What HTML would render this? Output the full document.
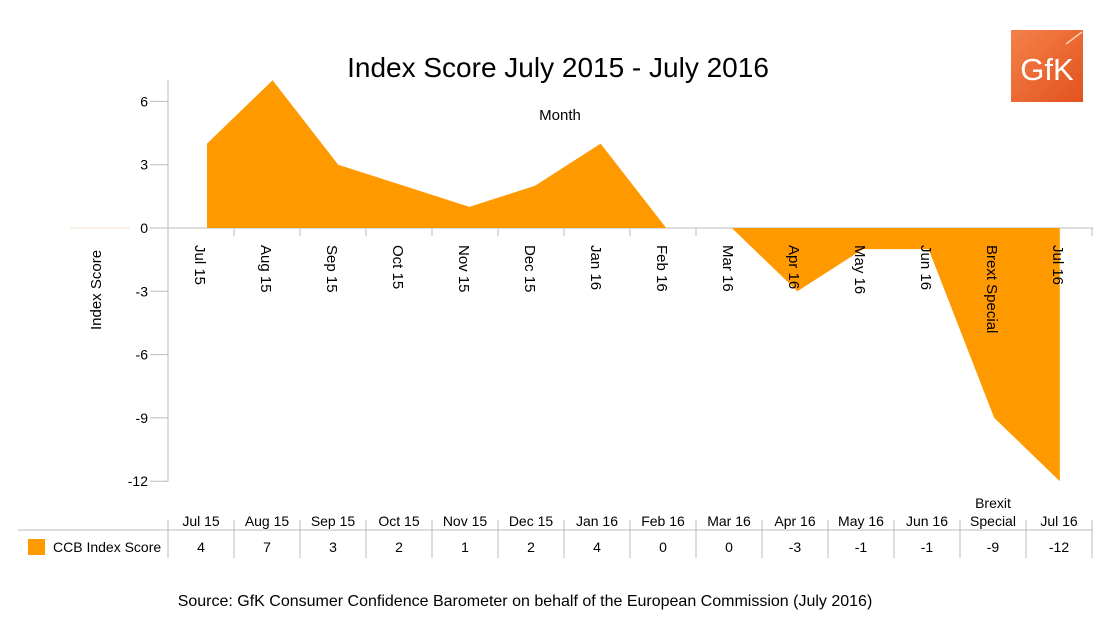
<!DOCTYPE html>
<html><head><meta charset="utf-8"><style>
body{margin:0;background:#fff;}
svg{display:block;font-family:"Liberation Sans",Arial,sans-serif;}
</style></head><body>
<svg id="c" width="1120" height="630" viewBox="0 0 1120 630">
<text x="558" y="77" font-size="28" text-anchor="middle">Index Score July 2015 - July 2016</text>
<text x="560" y="120" font-size="15" text-anchor="middle">Month</text>
<text transform="translate(101,290) rotate(-90)" font-size="15" text-anchor="middle">Index Score</text>
<line x1="70" y1="228" x2="130" y2="228" stroke="#f6ede2" stroke-width="1.5"/>
<g>
<defs><linearGradient id="lg" x1="0" y1="0" x2="1" y2="1"><stop offset="0" stop-color="#f4814a"/><stop offset="1" stop-color="#e2521e"/></linearGradient></defs>
<rect x="1011" y="30" width="72" height="72" fill="url(#lg)"/>
<line x1="1066" y1="44" x2="1082" y2="32" stroke="#fbd2b8" stroke-width="1.5"/>
<text x="1047" y="80" font-size="31" fill="#fff" text-anchor="middle">GfK</text>
</g>
<g id="axes"></g>
<g id="marks"></g>
<g id="table"></g>
<text x="525" y="606" font-size="16" text-anchor="middle">Source: GfK Consumer Confidence Barometer on behalf of the European Commission (July 2016)</text>
</svg>
<script>
const categories=["Jul 15","Aug 15","Sep 15","Oct 15","Nov 15","Dec 15","Jan 16","Feb 16","Mar 16","Apr 16","May 16","Jun 16","Brext Special","Jul 16"];
const tableLabels=["Jul 15","Aug 15","Sep 15","Oct 15","Nov 15","Dec 15","Jan 16","Feb 16","Mar 16","Apr 16","May 16","Jun 16","Brexit\nSpecial","Jul 16"];
const values=[4,7,3,2,1,2,4,0,0,-3,-1,-1,-9,-12];
const yTicks=[6,3,0,-3,-6,-9,-12];
const NS="http://www.w3.org/2000/svg";
const x0=168,colW=66,y0=228,unit=21.1;
const yS=v=>y0-v*unit;
const colL=i=>x0+i*colW;
const ptX=i=>207+i*65.6;
function mk(tag,attrs,parent,txt){const e=document.createElementNS(NS,tag);for(const k in attrs)e.setAttribute(k,attrs[k]);if(txt!==undefined)e.textContent=txt;parent.appendChild(e);return e;}
const ax=document.getElementById('axes'),mg=document.getElementById('marks'),tb=document.getElementById('table');
const right=colL(categories.length)+1;
let e=mk('line',{x1:x0,y1:80,x2:x0,y2:yS(-12),stroke:'#bbb'},ax);


yTicks.forEach(t=>{
 let l=mk('line',{x1:x0-18,y1:yS(t),x2:x0,y2:yS(t),stroke:'#bbb'},ax);
 
 
 let tx=mk('text',{x:x0-20,y:yS(t)+5,'font-size':14,'text-anchor':'end'},ax,String(t));
 
 
});
e=mk('line',{x1:x0,y1:y0,x2:right,y2:y0,stroke:'#bbb'},ax);


for(let i=1;i<=categories.length;i++){
 let l=mk('line',{x1:colL(i),y1:y0,x2:colL(i),y2:y0+8,stroke:'#bbb'},ax);
 
 
}
let d='M'+ptX(0)+','+y0;
values.forEach((v,i)=>{d+=' L'+ptX(i)+','+yS(v);});
d+=' L'+ptX(values.length-1)+','+y0+' Z';
e=mk('path',{d:d,fill:'#ff9900'},mg);


categories.forEach((c,i)=>{
 const cx=colL(i)+colW/2;
 let t=mk('text',{transform:`translate(${cx-6},245) rotate(90)`,'font-size':15},mg,c);
 
 
});
e=mk('line',{x1:18,y1:530,x2:right,y2:530,stroke:'#bbb'},tb);


for(let i=0;i<=categories.length;i++){
 let l=mk('line',{x1:colL(i),y1:520,x2:colL(i),y2:558,stroke:'#bbb'},tb);
 
 
}
tableLabels.forEach((c,i)=>{
 const cx=colL(i)+colW/2;
 const parts=c.split('\n');
 parts.forEach((p,k)=>{
  let t=mk('text',{x:cx,y:526-(parts.length-1-k)*18,'font-size':14,'text-anchor':'middle'},tb,p);
  
  
 });
 let v=mk('text',{x:cx,y:552,'font-size':14,'text-anchor':'middle'},tb,String(values[i]));
 
 
});
e=mk('rect',{x:28,y:539,width:17,height:16,fill:'#ff9900'},tb);


e=mk('text',{x:53,y:552,'font-size':14},tb,'CCB Index Score');


</script>
</body></html>
